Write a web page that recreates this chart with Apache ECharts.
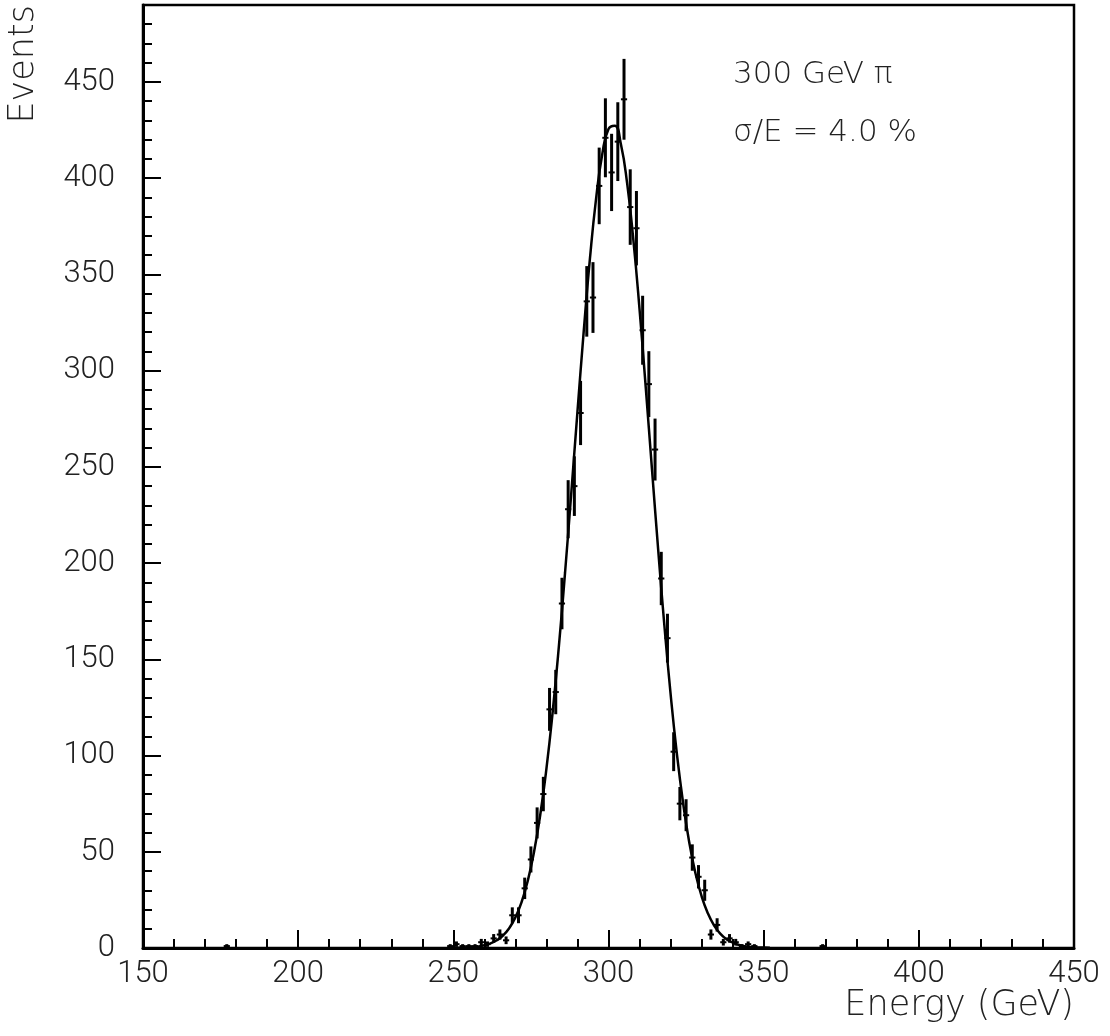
<!DOCTYPE html>
<html>
<head>
<meta charset="utf-8">
<script src="https://cdn.jsdelivr.net/npm/echarts@6/dist/echarts.min.js"></script>
<style>
  html, body { margin: 0; padding: 0; background: #fff; }
  #main { width: 1110px; height: 1036px; }
</style>
</head>
<body>
<div id="main"></div>
<script>
// histogram bins (2 GeV wide), centre and events
const binCenters = [177, 249, 251, 253, 255, 257, 259, 261, 263, 265, 267, 269, 271, 273, 275, 277, 279,
  281, 283, 285, 287, 289, 291, 293, 295, 297, 299, 301, 303, 305, 307, 309, 311, 313, 315, 317, 319,
  321, 323, 325, 327, 329, 331, 333, 335, 337, 339, 341, 343, 345, 347, 369];
const binCounts = [1, 1, 2, 1, 1, 1, 3, 2, 5, 7, 4, 17, 17, 31, 46, 65, 80,
  124, 133, 179, 228, 240, 278, 336, 338, 396, 421, 403, 419, 441, 385, 374, 321, 293, 259, 192, 161,
  102, 75, 69, 47, 37, 30, 7, 12, 3, 5, 3, 1, 2, 1, 1];

// fitted curve
const fitX = [250, 252, 254, 256, 258, 260, 262, 264, 266, 268, 270, 272, 274, 276, 278, 280, 282, 284,
  286, 288, 290, 292, 294, 296, 298, 300, 302, 304, 306, 308, 310, 312, 314, 316, 318, 320, 322, 324,
  326, 328, 330, 332, 334, 336, 338, 340, 342, 344, 346, 348, 350, 352];
const fitY = [0.1, 0.1, 0.2, 0.4, 0.8, 1.4, 2.4, 4.0, 6.5, 10.3, 15.9, 23.9, 35.0, 49.9, 69.1, 93.2, 122.5, 156.6,
  195.0, 236.3, 278.7, 320.1, 357.9, 389.4, 412.6, 425.6, 427.3, 417.6, 397.4, 368.1, 331.9, 291.3, 249.0, 207.1,
  167.7, 132.2, 101.4, 75.8, 55.1, 39.0, 26.9, 18.1, 11.8, 7.5, 4.6, 2.8, 1.6, 0.9, 0.5, 0.3, 0.2, 0.1];

const xTicks = [150, 450, 50];   // min, max, step
const yTicks = [0, 490, 50];

const labelFont = 'Roboto';
const titleFont = '200 35px "DejaVu Sans"';
const textFont = '200 31px "DejaVu Sans"';

const chart = echarts.init(document.getElementById('main'), null, { renderer: 'canvas' });

const histData = binCenters.map((c, i) => [c, binCounts[i]]);
const fitData = fitX.map((x, i) => [x, fitY[i]]);

chart.setOption({
  animation: false,
  backgroundColor: '#fff',
  grid: {
    left: 143, right: 36, top: 5, bottom: 88,
    show: true, borderColor: '#000', borderWidth: 2.5
  },
  xAxis: {
    type: 'value',
    min: xTicks[0], max: xTicks[1], interval: xTicks[2],
    axisLine: { show: true, onZero: false, lineStyle: { color: '#000', width: 3 } },
    axisTick: { show: true, inside: true, length: 18, lineStyle: { color: '#000', width: 2 } },
    minorTick: { show: true, splitNumber: 5, length: 9, lineStyle: { color: '#000', width: 2 } },
    splitLine: { show: false },
    axisLabel: { color: '#222', fontFamily: labelFont, fontWeight: 300, fontSize: 31, margin: 11 }
  },
  yAxis: {
    type: 'value',
    min: yTicks[0], max: yTicks[1], interval: yTicks[2],
    axisLine: { show: true, lineStyle: { color: '#000', width: 3 } },
    axisTick: { show: true, inside: true, length: 18, lineStyle: { color: '#000', width: 2 } },
    minorTick: { show: true, splitNumber: 5, length: 9, lineStyle: { color: '#000', width: 2 } },
    splitLine: { show: false },
    axisLabel: { color: '#222', fontFamily: labelFont, fontWeight: 300, fontSize: 31, margin: 28, showMaxLabel: false }
  },
  graphic: [
    {
      type: 'text', x: 6, y: 5, rotation: Math.PI / 2,
      style: { text: 'Events', fill: '#222', font: titleFont, align: 'right', verticalAlign: 'top' }
    },
    {
      type: 'text', x: 1074, y: 1006,
      style: { text: 'Energy (GeV)', fill: '#222', font: titleFont, align: 'right', verticalAlign: 'middle' }
    },
    {
      type: 'text', x: 733, y: 75,
      style: { text: '300 GeV π', fill: '#222', font: textFont, verticalAlign: 'middle' }
    },
    {
      type: 'text', x: 733, y: 133,
      style: { text: 'σ/E = 4.0 %', fill: '#222', font: textFont, verticalAlign: 'middle' }
    }
  ],
  series: [
    {
      type: 'line',
      data: fitData,
      smooth: true,
      showSymbol: false,
      lineStyle: { color: '#000', width: 2.5 },
      z: 3
    },
    {
      type: 'custom',
      data: histData,
      renderItem: function (params, api) {
        const x = api.value(0);
        const y = api.value(1);
        const err = Math.sqrt(y);
        const top = api.coord([x, y + err]);
        const bot = api.coord([x, Math.max(y - err, 0)]);
        const l = api.coord([x - 1, y]);
        const r = api.coord([x + 1, y]);
        return {
          type: 'group',
          children: [
            { type: 'line', shape: { x1: top[0], y1: top[1], x2: bot[0], y2: bot[1] }, style: { stroke: '#000', lineWidth: 3 } },
            { type: 'line', shape: { x1: l[0], y1: l[1], x2: r[0], y2: r[1] }, style: { stroke: '#000', lineWidth: 2 } }
          ]
        };
      },
      z: 4
    }
  ]
});
</script>
</body>
</html>
